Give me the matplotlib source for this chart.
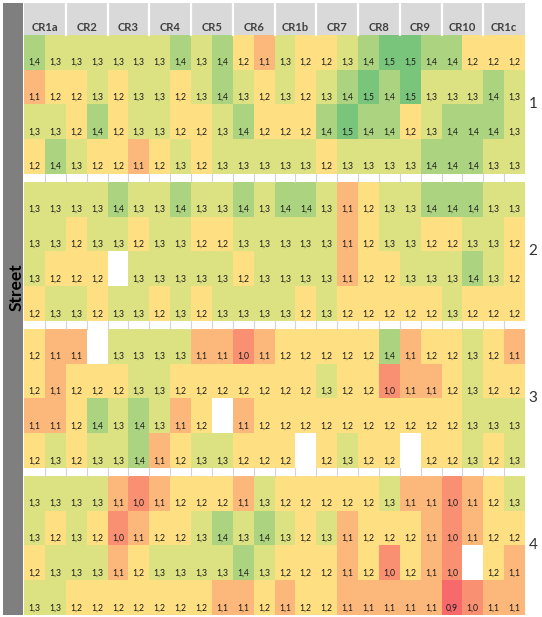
import numpy as np
import matplotlib
matplotlib.use("Agg")
import matplotlib.pyplot as plt
from matplotlib.colors import LinearSegmentedColormap, TwoSlopeNorm

plt.rcParams['font.family'] = ['Lato', 'DejaVu Sans']

nan = np.nan

groups = ['CR1a', 'CR2', 'CR3', 'CR4', 'CR5', 'CR6', 'CR1b', 'CR7', 'CR8', 'CR9', 'CR10', 'CR1c']
block_names = ['1', '2', '3', '4']
side_label = 'Street'

block1 = [
    [1.4, 1.3, 1.3, 1.3, 1.3, 1.3, 1.3, 1.4, 1.3, 1.4, 1.2, 1.1, 1.3, 1.2, 1.2, 1.3, 1.4, 1.5, 1.5, 1.4, 1.4, 1.2, 1.2, 1.2],
    [1.1, 1.2, 1.2, 1.3, 1.2, 1.3, 1.3, 1.2, 1.3, 1.4, 1.3, 1.2, 1.3, 1.2, 1.3, 1.4, 1.5, 1.4, 1.5, 1.3, 1.3, 1.3, 1.4, 1.3],
    [1.3, 1.3, 1.2, 1.4, 1.2, 1.3, 1.3, 1.2, 1.2, 1.3, 1.4, 1.2, 1.2, 1.2, 1.4, 1.5, 1.4, 1.4, 1.2, 1.3, 1.4, 1.4, 1.4, 1.3],
    [1.2, 1.4, 1.3, 1.2, 1.2, 1.1, 1.2, 1.3, 1.2, 1.3, 1.3, 1.3, 1.3, 1.3, 1.2, 1.3, 1.3, 1.3, 1.3, 1.4, 1.4, 1.4, 1.3, 1.3],
]
block2 = [
    [1.3, 1.3, 1.3, 1.3, 1.4, 1.3, 1.3, 1.4, 1.3, 1.3, 1.4, 1.3, 1.4, 1.4, 1.3, 1.1, 1.2, 1.3, 1.3, 1.4, 1.4, 1.4, 1.3, 1.3],
    [1.3, 1.3, 1.2, 1.3, 1.3, 1.2, 1.3, 1.3, 1.2, 1.2, 1.3, 1.3, 1.3, 1.3, 1.3, 1.1, 1.2, 1.3, 1.3, 1.2, 1.2, 1.3, 1.3, 1.2],
    [1.3, 1.2, 1.2, 1.2, nan, 1.3, 1.3, 1.3, 1.3, 1.3, 1.2, 1.3, 1.3, 1.3, 1.3, 1.1, 1.2, 1.2, 1.3, 1.3, 1.3, 1.4, 1.3, 1.2],
    [1.2, 1.3, 1.3, 1.2, 1.3, 1.3, 1.2, 1.3, 1.2, 1.3, 1.3, 1.3, 1.3, 1.2, 1.3, 1.2, 1.2, 1.2, 1.2, 1.2, 1.3, 1.2, 1.2, 1.2],
]
block3 = [
    [1.2, 1.1, 1.1, nan, 1.3, 1.3, 1.3, 1.3, 1.1, 1.1, 1.0, 1.1, 1.2, 1.2, 1.2, 1.2, 1.2, 1.4, 1.1, 1.2, 1.2, 1.3, 1.2, 1.1],
    [1.2, 1.1, 1.2, 1.2, 1.2, 1.3, 1.3, 1.2, 1.2, 1.2, 1.2, 1.2, 1.2, 1.2, 1.3, 1.2, 1.2, 1.0, 1.1, 1.1, 1.2, 1.3, 1.2, 1.2],
    [1.1, 1.1, 1.2, 1.4, 1.3, 1.4, 1.3, 1.1, 1.2, nan, 1.1, 1.2, 1.2, 1.2, 1.2, 1.2, 1.2, 1.2, 1.2, 1.2, 1.2, 1.3, 1.3, 1.3],
    [1.2, 1.3, 1.2, 1.3, 1.3, 1.4, 1.1, 1.2, 1.3, 1.3, 1.2, 1.2, 1.2, nan, 1.2, 1.3, 1.2, 1.2, nan, 1.2, 1.2, 1.3, 1.2, 1.3],
]
block4 = [
    [1.3, 1.3, 1.3, 1.3, 1.1, 1.0, 1.1, 1.2, 1.2, 1.2, 1.1, 1.3, 1.2, 1.2, 1.2, 1.2, 1.2, 1.3, 1.1, 1.1, 1.0, 1.1, 1.2, 1.3],
    [1.3, 1.2, 1.3, 1.2, 1.0, 1.1, 1.2, 1.2, 1.3, 1.4, 1.3, 1.4, 1.3, 1.2, 1.3, 1.1, 1.2, 1.2, 1.2, 1.1, 1.0, 1.1, 1.2, 1.2],
    [1.2, 1.3, 1.3, 1.3, 1.1, 1.2, 1.3, 1.3, 1.3, 1.3, 1.4, 1.3, 1.2, 1.2, 1.2, 1.1, 1.2, 1.0, 1.2, 1.1, 1.0, nan, 1.2, 1.1],
    [1.3, 1.3, 1.2, 1.2, 1.2, 1.2, 1.2, 1.2, 1.2, 1.1, 1.1, 1.2, 1.1, 1.2, 1.2, 1.1, 1.1, 1.1, 1.1, 1.1, 0.9, 1.0, 1.1, 1.1],
]
blocks = [block1, block2, block3, block4]

# excel-like red / yellow / green scale
cmap = LinearSegmentedColormap.from_list('ryg', ['#F8696B', '#FFEB84', '#63BE7B'])
cmap.set_bad('white')
norm = TwoSlopeNorm(vmin=0.9, vcenter=1.23, vmax=1.55)

W, H = 542, 617
fig = plt.figure(figsize=(W / 100, H / 100), dpi=100)

# layout in row units (one row ~34.75 px)
head_h = 0.92
gap_h = 0.23
ncol = len(groups) * 2
total = head_h + 4 * len(blocks) + gap_h * (len(blocks) - 1)

ax = fig.add_axes([24 / W, 2 / H, 501 / W, 612 / H])
ax.set_xlim(0, ncol)
ax.set_ylim(total, 0)
ax.axis('off')

# header
ax.add_patch(plt.Rectangle((0, 0), ncol, head_h, facecolor='#D9D9D9', edgecolor='none'))
for k in range(1, len(groups)):
    ax.plot([2 * k, 2 * k], [0, head_h], color='white', lw=1.6)
for k, g in enumerate(groups):
    ax.text(2 * k + 1, head_h * 0.78, g, ha='center', va='center', fontsize=8,
            fontweight='bold', color='#404040')

xe = np.arange(ncol + 1)
y0 = head_h
for b, data in enumerate(blocks):
    arr = np.ma.masked_invalid(np.array(data, dtype=float))
    nrow = arr.shape[0]
    ye = y0 + np.arange(nrow + 1)
    ax.pcolormesh(xe, ye, arr, cmap=cmap, norm=norm, edgecolor='none')
    for r in range(nrow):
        for c in range(ncol):
            v = arr[r, c]
            if np.ma.is_masked(v):
                continue
            ax.text(c + 0.5, y0 + r + 0.79, f"{v:.1f}".replace('.', ','), ha='center', va='center',
                    fontsize=6.2, color='#1a1a1a')
    ax.text(ncol + 0.38, y0 + nrow / 2, block_names[b], ha='center', va='center',
            fontsize=11, color='#333333', clip_on=False)
    y0 += nrow
    if b < len(blocks) - 1:
        for c in range(1, ncol):
            ax.plot([c, c], [y0, y0 + gap_h], color='#D4D4D4', lw=0.8)
        y0 += gap_h

# left bar with label
axb = fig.add_axes([3 / W, 2 / H, 20 / W, 612 / H])
axb.set_facecolor('#7F7F7F')
axb.set_xticks([])
axb.set_yticks([])
for s in axb.spines.values():
    s.set_visible(False)
axb.text(0.66, 0.535, side_label, rotation=90, ha='center', va='center', fontsize=12.5,
         fontweight='bold', color='black', transform=axb.transAxes)

fig.savefig('out.png', dpi=100)
